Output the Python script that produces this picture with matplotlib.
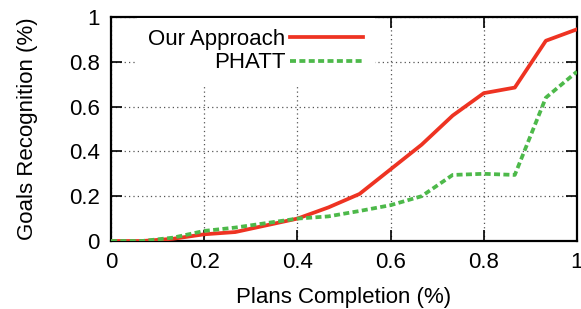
import matplotlib
matplotlib.use("Agg")
import matplotlib.pyplot as plt
from matplotlib.ticker import MultipleLocator

plt.rcParams["font.family"] = ["Liberation Sans", "DejaVu Sans"]
plt.rcParams["font.size"] = 16

# plan completion steps (k / 15)
completion = [0, 1/15, 2/15, 3/15, 4/15, 5/15, 6/15, 7/15, 8/15, 9/15,
              10/15, 11/15, 12/15, 13/15, 14/15, 1]
our_approach = [0.0, 0.0, 0.01, 0.03, 0.04, 0.07, 0.10, 0.15, 0.21, 0.32,
                0.43, 0.56, 0.66, 0.685, 0.894, 0.945]
phatt = [0.0, 0.0, 0.015, 0.045, 0.06, 0.08, 0.10, 0.11, 0.134, 0.16,
         0.20, 0.295, 0.30, 0.295, 0.64, 0.756]

fig = plt.figure(figsize=(5.81, 3.09), dpi=100)
ax = fig.add_axes([0.191, 0.220, 0.802, 0.725])

ax.plot(completion, our_approach, color="#EE3322", linewidth=2.7,
        label="Our Approach", zorder=3)
ax.plot(completion, phatt, color="#4DB94A", linewidth=2.7,
        dashes=(1.6, 0.9), label="PHATT", zorder=3)

ax.set_xlim(0, 1)
ax.set_ylim(0, 1)
ax.xaxis.set_major_locator(MultipleLocator(0.2))
ax.yaxis.set_major_locator(MultipleLocator(0.2))
ax.xaxis.set_major_formatter(lambda v, p: f"{v:g}")
ax.yaxis.set_major_formatter(lambda v, p: f"{v:g}")

# gnuplot style: dotted grid, inward ticks on all sides
ax.grid(True, linestyle=(0, (1, 2.5)), color="#555555", linewidth=0.9)
ax.tick_params(direction="in", length=8, width=1.2, top=True, right=True,
               labelsize=16)
ax.tick_params(axis="y", pad=8)
ax.tick_params(axis="x", pad=8)
for s in ax.spines.values():
    s.set_linewidth(1.6)

ax.set_xlabel("Plans Completion (%)", fontsize=16, labelpad=10)
ax.set_ylabel("Goals Recognition (%)", fontsize=16, labelpad=22)

leg = ax.legend(loc="upper right", bbox_to_anchor=(0.568, 1.0),
                markerfirst=False, frameon=True, fancybox=False,
                edgecolor="none", facecolor="white", framealpha=1,
                handlelength=3.3, handletextpad=0.2, labelspacing=0.1,
                borderpad=0.5, borderaxespad=0.05, fontsize=16)
leg.set_zorder(2.5)

fig.savefig("out.png", dpi=100)
